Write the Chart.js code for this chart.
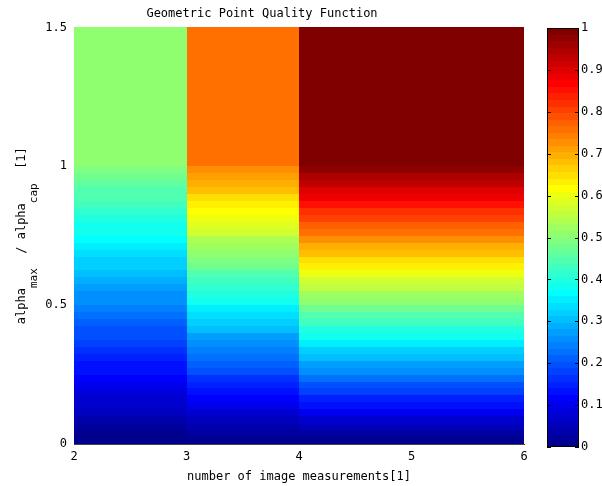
<!DOCTYPE html>
<html>
<head>
<meta charset="utf-8">
<script src="https://cdn.jsdelivr.net/npm/chart.js@4.4.0/dist/chart.umd.min.js"></script>
<style>
  html, body { margin: 0; padding: 0; background: #fff; }
  #wrap { position: relative; width: 602px; height: 486px; }
  #main { position: absolute; left: 0; top: 0; }
  #cbar { position: absolute; left: 535px; top: 0; }
</style>
</head>
<body>
<div id="wrap">
  <canvas id="main" width="602" height="486"></canvas>
  <canvas id="cbar" width="67" height="486"></canvas>
</div>
<script>
// column edges along x (number of image measurements)
const xEdges = [2, 3, 4, 6];
// row edges along y (alpha_max / alpha_cap), last row runs up to the top
const yEdges = [0, 0.025, 0.05, 0.075, 0.1, 0.125, 0.15, 0.175, 0.2, 0.225,
  0.25, 0.275, 0.3, 0.325, 0.35, 0.375, 0.4, 0.425, 0.45, 0.475,
  0.5, 0.525, 0.55, 0.575, 0.6, 0.625, 0.65, 0.675, 0.7, 0.725,
  0.75, 0.775, 0.8, 0.825, 0.85, 0.875, 0.9, 0.925, 0.95, 0.975,
  1.0, 1.5];
// quality per row, one list per column
const quality2 = [0, 0.0125, 0.025, 0.0375, 0.05, 0.0625, 0.075, 0.0875, 0.1, 0.1125,
  0.125, 0.1375, 0.15, 0.1625, 0.175, 0.1875, 0.2, 0.2125, 0.225, 0.2375,
  0.25, 0.2625, 0.275, 0.2875, 0.3, 0.3125, 0.325, 0.3375, 0.35, 0.3625,
  0.375, 0.3875, 0.4, 0.4125, 0.425, 0.4375, 0.45, 0.4625, 0.475, 0.4875,
  0.5];
const quality3 = [0, 0.019, 0.038, 0.056, 0.075, 0.094, 0.113, 0.131, 0.15, 0.169,
  0.188, 0.206, 0.225, 0.244, 0.263, 0.281, 0.3, 0.319, 0.338, 0.356,
  0.375, 0.394, 0.413, 0.431, 0.45, 0.469, 0.488, 0.506, 0.525, 0.544,
  0.563, 0.581, 0.6, 0.619, 0.638, 0.656, 0.675, 0.694, 0.713, 0.731,
  0.75];
const quality4 = [0, 0.025, 0.05, 0.075, 0.1, 0.125, 0.15, 0.175, 0.2, 0.225,
  0.25, 0.275, 0.3, 0.325, 0.35, 0.375, 0.4, 0.425, 0.45, 0.475,
  0.5, 0.525, 0.55, 0.575, 0.6, 0.625, 0.65, 0.675, 0.7, 0.725,
  0.75, 0.775, 0.8, 0.825, 0.85, 0.875, 0.9, 0.925, 0.95, 0.975,
  1.0];
const columns = [quality2, quality3, quality4];

const xTicks = [2, 3, 4, 5, 6];
const yTicks = [0, 0.5, 1, 1.5];
const cbarTicks = [0, 0.1, 0.2, 0.3, 0.4, 0.5, 0.6, 0.7, 0.8, 0.9, 1];

const FONT = 'DejaVu Sans Mono';
const NCOLORS = 64;

// MATLAB style jet(64), row k = 1..64
function jetRow(k) {
    const u = j => (j >= 1 && j <= 47) ? (j <= 16 ? j / 16 : (j <= 31 ? 1 : (48 - j) / 16)) : 0;
    const r = k >= 25 ? u(k - 24) : 0;
    const g = u(k - 8);
    const b = u(k + 8);
    return `rgb(${Math.round(r * 255)},${Math.round(g * 255)},${Math.round(b * 255)})`;
}

function jetColor(v) {
    const k = Math.min(NCOLORS, Math.floor(v * NCOLORS) + 1);
    return jetRow(Math.max(1, k));
}

// plain tick text: 0, 0.5, 1, 1.5
const plainLabel = value => String(value);

// Draw the cells of the quality map through the chart scales
const heatmapPlugin = {
    id: 'heatmap',
    beforeDatasetsDraw(chart) {
        const { ctx, scales: { x, y } } = chart;
        ctx.save();
        columns.forEach((col, c) => {
            const x0 = Math.round(x.getPixelForValue(xEdges[c]));
            const x1 = Math.round(x.getPixelForValue(xEdges[c + 1]));
            col.forEach((v, r) => {
                const yb = Math.round(y.getPixelForValue(yEdges[r]));
                const yt = Math.round(y.getPixelForValue(yEdges[r + 1]));
                ctx.fillStyle = jetColor(v);
                ctx.fillRect(x0, yt, x1 - x0, yb - yt);
            });
        });
        ctx.restore();
    }
};

// y axis title with subscripts
const yTitlePlugin = {
    id: 'yTitle',
    afterDraw(chart) {
        const { ctx, chartArea } = chart;
        const parts = [
            ['alpha', false], ['max', true], ['  / ', false],
            ['alpha', false], ['cap', true], ['  [1]', false]
        ];
        ctx.save();
        ctx.fillStyle = '#000';
        ctx.textBaseline = 'alphabetic';
        ctx.textAlign = 'left';
        let total = 0;
        parts.forEach(([t, sub]) => {
            ctx.font = (sub ? '11px ' : '12px ') + FONT;
            total += ctx.measureText(t).width;
        });
        ctx.translate(25, (chartArea.top + chartArea.bottom) / 2);
        ctx.rotate(-Math.PI / 2);
        let pos = -total / 2;
        parts.forEach(([t, sub]) => {
            ctx.font = (sub ? '11px ' : '12px ') + FONT;
            ctx.fillText(t, pos, sub ? 12 : 0);
            pos += ctx.measureText(t).width;
        });
        ctx.restore();
    }
};

const mainChart = new Chart(document.getElementById('main').getContext('2d'), {
    type: 'scatter',
    data: { datasets: [] },
    options: {
        responsive: false,
        animation: false,
        layout: { padding: { left: 0, right: 78, top: 0, bottom: 0 } },
        plugins: {
            legend: { display: false },
            tooltip: { enabled: false },
            title: {
                display: true,
                text: 'Geometric Point Quality Function',
                color: '#000',
                font: { family: FONT, size: 12, weight: 'normal' },
                padding: { top: 7, bottom: 6 }
            }
        },
        scales: {
            x: {
                type: 'linear',
                min: 2,
                max: 6,
                afterBuildTicks: scale => { scale.ticks = xTicks.map(v => ({ value: v })); },
                afterFit: scale => { scale.height = 42; },
                grid: { display: false, drawTicks: false },
                border: { display: true, color: '#444', dash: [2, 2], width: 1 },
                ticks: {
                    color: '#000',
                    padding: 6,
                    font: { family: FONT, size: 12 },
                    callback: plainLabel
                },
                title: {
                    display: true,
                    text: 'number of image measurements[1]',
                    color: '#000',
                    font: { family: FONT, size: 12 },
                    padding: { top: 0, bottom: 2 }
                }
            },
            y: {
                type: 'linear',
                min: 0,
                max: 1.5,
                afterBuildTicks: scale => { scale.ticks = yTicks.map(v => ({ value: v })); },
                afterFit: scale => { scale.width = 74; },
                grid: { display: false, drawTicks: false },
                border: { display: true, color: '#444', dash: [2, 2], width: 1 },
                ticks: {
                    color: '#000',
                    padding: 7,
                    font: { family: FONT, size: 12 },
                    callback: plainLabel
                }
            }
        }
    },
    plugins: [heatmapPlugin, yTitlePlugin]
});

// Colour bar: 64 colour levels on its own 0..1 scale
const colorbarPlugin = {
    id: 'colorbar',
    beforeDatasetsDraw(chart) {
        const { ctx, chartArea, scales: { y } } = chart;
        const left = chartArea.left;
        const width = chartArea.right - chartArea.left;
        ctx.save();
        for (let k = 1; k <= NCOLORS; k++) {
            const yb = Math.round(y.getPixelForValue((k - 1) / NCOLORS));
            const yt = Math.round(y.getPixelForValue(k / NCOLORS));
            ctx.fillStyle = jetRow(k);
            ctx.fillRect(left, yt, width, yb - yt);
        }
        ctx.strokeStyle = '#000';
        ctx.lineWidth = 1;
        ctx.strokeRect(left + 0.5, chartArea.top + 0.5, width - 1, chartArea.bottom - chartArea.top - 1);
        // inward tick marks on both sides
        cbarTicks.forEach(v => {
            const py = Math.round(y.getPixelForValue(v)) + 0.5;
            ctx.beginPath();
            ctx.moveTo(left, py);
            ctx.lineTo(left + 4, py);
            ctx.moveTo(chartArea.right - 4, py);
            ctx.lineTo(chartArea.right, py);
            ctx.stroke();
        });
        ctx.restore();
    }
};

const cbarChart = new Chart(document.getElementById('cbar').getContext('2d'), {
    type: 'scatter',
    data: { datasets: [] },
    options: {
        responsive: false,
        animation: false,
        layout: { padding: { left: 12, right: 0, top: 28, bottom: 39 } },
        plugins: {
            legend: { display: false },
            tooltip: { enabled: false }
        },
        scales: {
            x: { type: 'linear', display: false, min: 0, max: 1 },
            y: {
                type: 'linear',
                position: 'right',
                min: 0,
                max: 1,
                afterBuildTicks: scale => { scale.ticks = cbarTicks.map(v => ({ value: v })); },
                afterFit: scale => { scale.width = 23; },
                grid: { display: false, drawTicks: false },
                border: { display: false },
                ticks: {
                    color: '#000',
                    padding: 2,
                    font: { family: FONT, size: 12 },
                    callback: plainLabel
                }
            }
        }
    },
    plugins: [colorbarPlugin]
});
</script>
</body>
</html>
